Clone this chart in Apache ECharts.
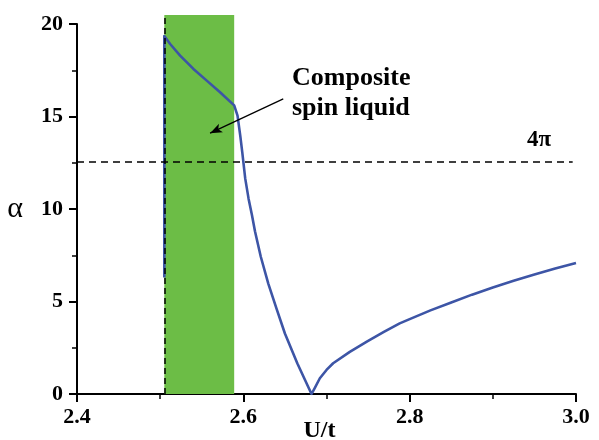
<!DOCTYPE html>
<html>
<head>
<meta charset="utf-8">
<script src="https://cdn.jsdelivr.net/npm/echarts@6/dist/echarts.min.js"></script>
<style>html,body{margin:0;padding:0;background:#fff}#c{width:599px;height:440px}</style>
</head>
<body>
<div id="c"></div>
<script>
// ---- data ----
const U_VALUES = [2.505, 2.505, 2.512, 2.524, 2.540, 2.556, 2.572, 2.589, 2.593, 2.5963, 2.5987, 2.6023, 2.6063, 2.6104, 2.614, 2.621, 2.630, 2.640, 2.650, 2.665, 2.682, 2.686, 2.692, 2.70, 2.708, 2.728, 2.749, 2.769, 2.788, 2.8, 2.825, 2.85, 2.875, 2.9, 2.925, 2.95, 2.975, 3.0];
const ALPHA_VALUES = [6.3, 19.35, 18.92, 18.29, 17.57, 16.94, 16.31, 15.6, 15.05, 13.97, 13.07, 11.64, 10.56, 9.66, 8.8, 7.42, 5.97, 4.6, 3.27, 1.65, 0, 0.33, 0.85, 1.3, 1.66, 2.28, 2.85, 3.36, 3.82, 4.05, 4.52, 4.95, 5.37, 5.76, 6.12, 6.46, 6.78, 7.08];
const BAND_U = [2.505, 2.589];          // composite spin liquid region
const FOUR_PI = 4 * Math.PI;            // horizontal reference
const ARROW_FROM = [2.648, 15.95];
const ARROW_TO = [2.560, 14.10];
const X_TICKS = [2.4, 2.6, 2.8, 3.0];
const Y_TICKS = [0, 5, 10, 15, 20];
const X_RANGE = [2.4, 3.0];
const Y_RANGE = [0, 20];

const serif = 'Liberation Serif';
const chart = echarts.init(document.getElementById('c'));
const lineData = U_VALUES.map((u, i) => [u, ALPHA_VALUES[i]]);

chart.setOption({
  animation: false,
  grid: [
    { left: 77, right: 23, top: 24, bottom: 46, containLabel: false, outerBoundsMode: 'none' },
    { left: 77, right: 23, top: 15, bottom: 46, containLabel: false, outerBoundsMode: 'none' }
  ],
  xAxis: [
    {
      gridIndex: 0, type: 'value', min: X_RANGE[0], max: X_RANGE[1], interval: 0.2,
      name: 'U/t', nameLocation: 'middle', nameGap: 25, nameMoveOverlap: false,
      nameTextStyle: { fontFamily: serif, fontWeight: 'bold', fontSize: 24, color: '#000', padding: [0, 14, 0, 0] },
      axisLine: { lineStyle: { color: '#000', width: 2 } },
      axisTick: { show: true, length: 8, inside: false, lineStyle: { color: '#000', width: 2 } },
      minorTick: { show: true, splitNumber: 2, length: 5, lineStyle: { color: '#000', width: 1.5 } },
      splitLine: { show: false },
      axisLabel: { fontFamily: serif, fontWeight: 'bold', fontSize: 22, color: '#000', margin: 12,
        formatter: v => X_TICKS.some(t => Math.abs(t - v) < 1e-6) ? v.toFixed(1) : '' }
    },
    { gridIndex: 1, type: 'value', min: X_RANGE[0], max: X_RANGE[1], show: false }
  ],
  yAxis: [
    {
      gridIndex: 0, type: 'value', min: Y_RANGE[0], max: Y_RANGE[1], interval: 5,
      name: 'α', nameLocation: 'middle', nameGap: 54, nameRotate: 0, nameMoveOverlap: false,
      nameTextStyle: { fontFamily: serif, fontSize: 30, color: '#000' },
      axisLine: { show: true, lineStyle: { color: '#000', width: 2 } },
      axisTick: { show: true, length: 8, lineStyle: { color: '#000', width: 2 } },
      minorTick: { show: true, splitNumber: 2, length: 5, lineStyle: { color: '#000', width: 1.5 } },
      splitLine: { show: false },
      axisLabel: { fontFamily: serif, fontWeight: 'bold', fontSize: 22, color: '#000', margin: 14,
        formatter: v => Y_TICKS.includes(v) ? String(v) : '' }
    },
    { gridIndex: 1, type: 'value', min: 0, max: 1, show: false }
  ],
  series: [
    {
      type: 'line', xAxisIndex: 1, yAxisIndex: 1,
      data: BAND_U.map(u => [u, 0]),
      showSymbol: false, symbol: 'none', lineStyle: { width: 0, opacity: 0 }, silent: true,
      markArea: {
        silent: true,
        itemStyle: { color: '#6cbd46' },
        data: [[{ xAxis: BAND_U[0] }, { xAxis: BAND_U[1] }]]
      },
      markLine: {
        silent: true, symbol: 'none', label: { show: false }, precision: 4,
        lineStyle: { color: '#000', type: [6, 4], width: 1.5 },
        data: [{ xAxis: BAND_U[0] }]
      }
    },
    {
      type: 'line', xAxisIndex: 0, yAxisIndex: 0,
      data: lineData, showSymbol: false, symbol: 'none', smooth: false,
      lineStyle: { color: '#3d55a6', width: 2.6, join: 'round' },
      z: 3,
      markLine: {
        silent: true, label: { show: false }, precision: 4,
        data: [
          [{ coord: [X_RANGE[0], FOUR_PI], symbol: 'none', lineStyle: { color: '#000', type: [7, 5], width: 1.7 } },
           { coord: [X_RANGE[1] - 0.004, FOUR_PI], symbol: 'none' }],
          [{ coord: ARROW_FROM, symbol: 'none', lineStyle: { color: '#000', type: 'solid', width: 1.3 } },
           { coord: ARROW_TO, symbol: 'arrow', symbolSize: [7, 12] }]
        ]
      }
    }
  ],
  graphic: [
    { type: 'text', left: 354 - 62, top: 63,
      style: { text: 'Composite\nspin liquid', fontFamily: serif, fontWeight: 'bold', fontSize: 26,
               lineHeight: 30, fill: '#000', align: 'center', width: 124 } },
    { type: 'text', left: 527, top: 129,
      style: { text: '4π', fontFamily: serif, fontWeight: 'bold', fontSize: 23, fill: '#000' } }
  ]
});
</script>
</body>
</html>
